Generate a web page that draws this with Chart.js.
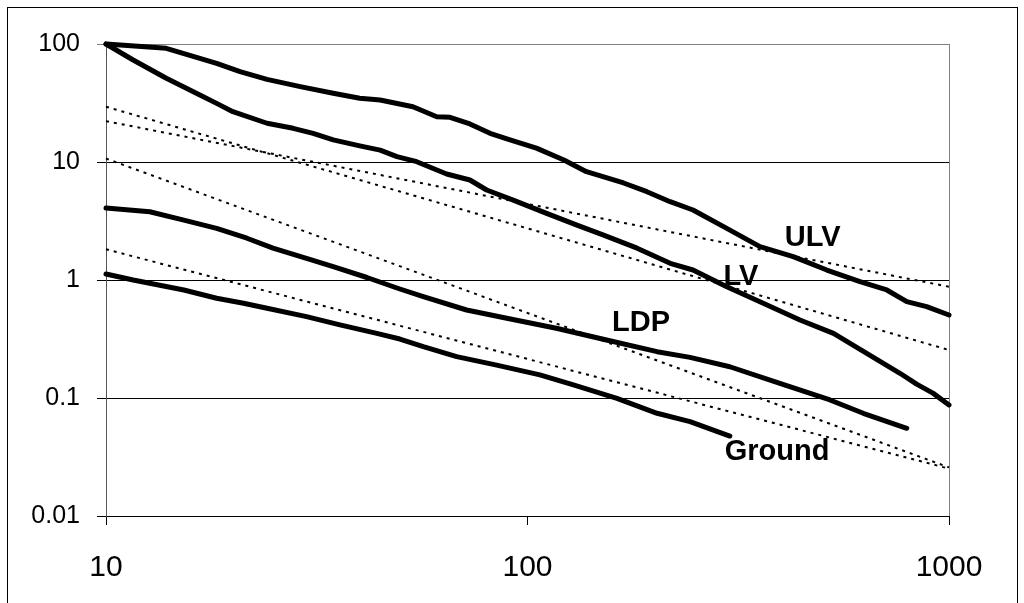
<!DOCTYPE html>
<html>
<head>
<meta charset="utf-8">
<script src="https://cdn.jsdelivr.net/npm/chart.js@4.4.1/dist/chart.umd.min.js"></script>
<style>
  html, body { margin: 0; padding: 0; background: #fff; }
  #wrap { width: 1024px; height: 603px; position: relative; }
</style>
</head>
<body>
<div id="wrap"><canvas id="c" width="1024" height="603"></canvas></div>
<script>
// ---- data ----
const ulvX = [10, 13.9, 16.7, 18.3, 20.8, 24.1, 28.9, 34.6, 40.0, 44.7, 53.5, 60.9, 65.5, 73.0, 81.5, 90.9, 105, 122, 138, 151, 169, 192, 218, 247, 297, 356, 427, 513, 615, 712, 794, 885, 1000];
const ulvY = [100, 92, 75.6, 68.6, 58.3, 50.2, 43.5, 38.2, 34.7, 33.5, 29.4, 24.2, 23.9, 21.0, 17.5, 15.4, 13.1, 10.4, 8.28, 7.51, 6.64, 5.60, 4.61, 3.92, 2.74, 1.92, 1.58, 1.215, 0.967, 0.823, 0.655, 0.594, 0.505];

const lvX = [10, 11.6, 13.9, 16.7, 18.3, 20.0, 24.1, 27.8, 31.0, 34.6, 40.0, 44.7, 49.0, 54.6, 64.3, 73.0, 80.0, 92.5, 111, 131, 151, 182, 218, 247, 297, 356, 443, 532, 638, 765, 838, 916, 1000];
const lvY = [100, 73.2, 51.2, 37.0, 31.4, 26.7, 21.3, 19.3, 17.5, 15.4, 13.7, 12.6, 11.1, 10.06, 7.91, 7.04, 5.79, 4.76, 3.67, 2.92, 2.41, 1.86, 1.385, 1.215, 0.877, 0.655, 0.458, 0.353, 0.239, 0.162, 0.131, 0.110, 0.0873];

const ldpX = [10, 12.7, 15.3, 18.3, 21.6, 24.9, 29.9, 34.6, 41.6, 49.8, 56.6, 71.7, 89.3, 117, 154, 203, 243, 302, 397, 522, 626, 794];
const ldpY = [4.08, 3.79, 3.22, 2.74, 2.26, 1.86, 1.527, 1.296, 1.05, 0.839, 0.722, 0.557, 0.474, 0.390, 0.310, 0.247, 0.221, 0.184, 0.133, 0.0962, 0.0742, 0.0554];

const groundX = [10, 11.6, 15.3, 18.3, 21.2, 24.1, 29.9, 35.9, 43.9, 49.8, 56.6, 67.9, 84.5, 107, 128.5, 163, 203, 243, 302];
const groundY = [1.124, 1.0, 0.823, 0.700, 0.635, 0.576, 0.489, 0.416, 0.353, 0.316, 0.272, 0.224, 0.190, 0.157, 0.129, 0.0994, 0.0742, 0.063, 0.0476];

// power-law fits (dotted straight lines)
const fitX = [10, 1000];
const fitAY = [22.2, 0.877];
const fitBY = [29.4, 0.255];
const fitCY = [10.7, 0.0258];
const fitDY = [1.82, 0.0252];

const xTicks = [10, 100, 1000];
const xTickLabels = ['10', '100', '1000'];
const yTicks = [0.01, 0.1, 1, 10, 100];
const yTickLabels = ['0.01', '0.1', '1', '10', '100'];

const labelText = ['ULV', 'LV', 'LDP', 'Ground'];
const labelX = [475, 321, 186, 391];
const labelY = [2.27, 1.06, 0.432, 0.0349];

// ---- build ----
const pts = (xs, ys) => xs.map((x, i) => ({ x: x, y: ys[i] }));
const solid = (name, xs, ys) => ({
  label: name, data: pts(xs, ys), borderColor: '#000', borderWidth: 5,
  pointRadius: 0, tension: 0, fill: false, borderCapStyle: 'round', borderJoinStyle: 'round', clip: false
});
const dotted = (name, ys) => ({
  label: name, data: pts(fitX, ys), borderColor: '#000', borderWidth: 2,
  borderDash: [3, 5], pointRadius: 0, tension: 0, fill: false, clip: false
});

const FONT = '"Liberation Sans", Arial, sans-serif';

const framePlugin = {
  id: 'frame',
  beforeDraw(chart) {
    const ctx = chart.ctx;
    ctx.save();
    ctx.fillStyle = '#fff';
    ctx.fillRect(0, 0, chart.width, chart.height);
    ctx.strokeStyle = '#000';
    ctx.lineWidth = 1;
    ctx.strokeRect(7.5, 7.5, 1010, 610);
    ctx.restore();
  },
  beforeDatasetsDraw(chart) {
    const a = chart.chartArea, ctx = chart.ctx;
    ctx.save();
    ctx.strokeStyle = '#808080';
    ctx.lineWidth = 1;
    ctx.beginPath();
    ctx.moveTo(Math.round(a.right) + 0.5, a.top);
    ctx.lineTo(Math.round(a.right) + 0.5, a.bottom);
    ctx.stroke();
    ctx.restore();
  },
  afterDatasetsDraw(chart) {
    const ctx = chart.ctx, xs = chart.scales.x, ys = chart.scales.y;
    ctx.save();
    ctx.fillStyle = '#000';
    ctx.font = 'bold 29px ' + FONT;
    ctx.textAlign = 'center';
    ctx.textBaseline = 'middle';
    labelText.forEach((t, i) => {
      ctx.fillText(t, xs.getPixelForValue(labelX[i]), ys.getPixelForValue(labelY[i]));
    });
    ctx.restore();
  }
};

new Chart(document.getElementById('c'), {
  type: 'line',
  data: {
    datasets: [
      dotted('ULV fit', fitAY),
      dotted('LV fit', fitBY),
      dotted('LDP fit', fitCY),
      dotted('Ground fit', fitDY),
      solid('ULV', ulvX, ulvY),
      solid('LV', lvX, lvY),
      solid('LDP', ldpX, ldpY),
      solid('Ground', groundX, groundY)
    ]
  },
  options: {
    responsive: false,
    devicePixelRatio: 1,
    animation: false,
    parsing: false,
    layout: { padding: { top: 44, right: 75, left: 0, bottom: 0 } },
    plugins: { legend: { display: false }, tooltip: { enabled: false } },
    scales: {
      x: {
        type: 'logarithmic', min: 10, max: 1000, position: 'bottom',
        afterBuildTicks: s => { s.ticks = xTicks.map(v => ({ value: v })); },
        afterFit: s => { s.height = 87; },
        ticks: {
          autoSkip: false, maxRotation: 0, padding: 25, color: '#000',
          font: { family: FONT, size: 30 },
          callback: (v) => xTickLabels[xTicks.indexOf(v)]
        },
        grid: { drawOnChartArea: false, drawTicks: true, tickLength: 9, color: '#000', lineWidth: 1 },
        border: { display: true, color: '#000', width: 1 }
      },
      y: {
        type: 'logarithmic', min: 0.01, max: 100,
        afterBuildTicks: s => { s.ticks = yTicks.map(v => ({ value: v })); },
        afterFit: s => { s.width = 106; },
        ticks: {
          autoSkip: false, padding: 17, color: '#000',
          font: { family: FONT, size: 25 },
          callback: (v) => yTickLabels[yTicks.indexOf(v)]
        },
        grid: {
          drawTicks: true, tickLength: 9, lineWidth: 1,
          color: c => (c.tick && c.tick.value === 100) ? '#808080' : '#000'
        },
        border: { display: true, color: '#555', width: 1 }
      }
    }
  },
  plugins: [framePlugin]
});
</script>
</body>
</html>
